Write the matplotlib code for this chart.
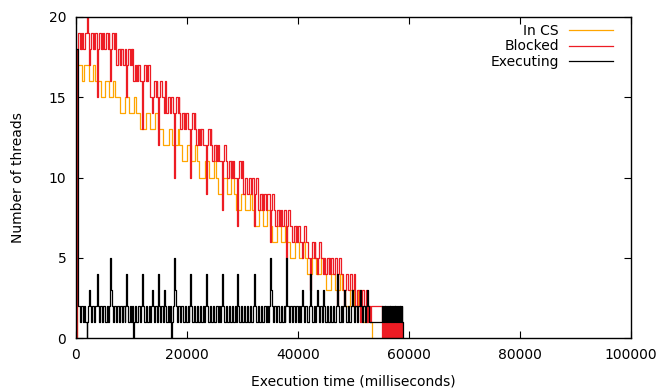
import matplotlib
matplotlib.use("Agg")
import matplotlib.pyplot as plt

# ---- data (time in ms, number of threads), step functions ----
x_ticks = [0, 20000, 40000, 60000, 80000, 100000]
y_ticks = [0, 5, 10, 15, 20]
series_labels = ["In CS", "Blocked", "Executing"]

cs_steps = [(0, 0), (150, 17), (1100, 16), (1400, 17), (2300, 16), (3000, 17), (3500, 16),
            (4500, 15), (5300, 16), (5900, 15), (6700, 16), (7100, 15), (7900, 14), (8800, 15),
            (9600, 14), (10400, 15), (10900, 14), (11500, 13), (12600, 14), (13300, 13),
            (14200, 14), (14700, 13), (15700, 12), (16700, 13), (17300, 12), (18300, 13),
            (18600, 12), (19100, 11), (20000, 12), (20700, 11), (21500, 12), (21800, 11),
            (22200, 10), (23200, 11), (23900, 10), (24800, 11), (25200, 10), (25600, 9),
            (26500, 10), (27200, 9), (28000, 10), (28400, 9), (28800, 8), (29800, 9), (30400, 8),
            (31300, 9), (31700, 8), (32100, 7), (33000, 8), (33700, 7), (34500, 8), (34900, 7),
            (35300, 6), (36300, 7), (36900, 6), (37700, 7), (38100, 6), (38600, 5), (39500, 6),
            (40100, 5), (40900, 6), (41200, 5), (41600, 4), (42600, 5), (43300, 4), (44100, 5),
            (44600, 4), (45100, 3), (46000, 4), (46700, 3), (47500, 4), (47900, 3), (48500, 2),
            (49400, 3), (50100, 2), (50900, 3), (51300, 2), (51700, 1), (52600, 2), (53000, 1),
            (53400, 0)]

blocked_steps = [(0, 0), (100, 18), (450, 19), (750, 18), (880, 19), (960, 18), (1050, 19),
                 (1350, 18), (1650, 19), (1930, 20), (2150, 19), (2340, 17), (2450, 18), (2750, 19),
                 (3100, 18), (3230, 19), (3300, 18), (3400, 19), (3780, 15), (3900, 18), (4200, 19),
                 (4500, 18), (4620, 19), (4700, 18), (4800, 19), (5100, 18), (5450, 19), (5800, 18),
                 (5950, 19), (6030, 18), (6130, 16), (6250, 18), (6500, 19), (6850, 18), (7050, 19),
                 (7210, 17), (7500, 18), (7850, 17), (7980, 18), (8060, 17), (8150, 18), (8500, 17),
                 (8800, 18), (9010, 15), (9130, 17), (9450, 18), (9800, 17), (9920, 18), (10000, 17),
                 (10050, 18), (10270, 16), (10550, 17), (10900, 16), (11020, 17), (11100, 16),
                 (11200, 17), (11550, 16), (11890, 13), (12010, 16), (12300, 17), (12650, 16),
                 (12770, 17), (12850, 16), (12950, 17), (13330, 15), (13700, 14), (13820, 15),
                 (14100, 16), (14450, 15), (14570, 16), (14650, 15), (14780, 12), (14900, 15),
                 (15200, 16), (15550, 15), (15860, 14), (15980, 15), (16080, 16), (16150, 15),
                 (16220, 14), (16500, 15), (16850, 14), (17100, 15), (17400, 14), (17660, 10),
                 (17780, 14), (18050, 15), (18400, 14), (18520, 15), (18600, 14), (18740, 13),
                 (19050, 14), (19400, 13), (19520, 14), (19600, 13), (19750, 14), (20100, 13),
                 (20540, 10), (20660, 13), (20950, 14), (21300, 13), (21420, 14), (21500, 13),
                 (21620, 12), (21900, 13), (22250, 12), (22370, 13), (22450, 12), (22600, 13),
                 (22950, 12), (23430, 9), (23550, 12), (23850, 13), (24200, 12), (24320, 13),
                 (24400, 12), (24510, 11), (24800, 12), (25150, 11), (25270, 12), (25350, 11),
                 (25500, 12), (25850, 11), (26310, 8), (26430, 11), (26700, 12), (27000, 11),
                 (27210, 10), (27500, 11), (27850, 10), (27970, 11), (28050, 10), (28200, 11),
                 (28550, 10), (29010, 7), (29130, 10), (29450, 11), (29800, 10), (29920, 11),
                 (30000, 10), (30090, 9), (30400, 10), (30750, 9), (31100, 10), (31450, 9),
                 (31750, 10), (32080, 7), (32200, 9), (32500, 10), (32800, 8), (33100, 9),
                 (33450, 8), (33570, 9), (33650, 8), (33800, 9), (34150, 8), (34500, 9), (34960, 6),
                 (35080, 8), (35400, 9), (35650, 8), (35860, 7), (36150, 8), (36500, 7), (36620, 8),
                 (36700, 7), (36850, 8), (37200, 7), (37500, 8), (37840, 5), (37960, 7), (38250, 8),
                 (38600, 7), (38920, 6), (39250, 7), (39600, 6), (39720, 7), (39800, 6), (39950, 7),
                 (40300, 6), (40730, 5), (40850, 6), (41150, 7), (41500, 6), (41810, 5), (42170, 3),
                 (42290, 5), (42600, 6), (42950, 5), (43070, 6), (43150, 5), (43430, 4), (43550, 5),
                 (43850, 6), (44200, 5), (44510, 4), (44630, 5), (44870, 4), (45200, 5), (45550, 4),
                 (45670, 5), (45750, 4), (45900, 5), (46250, 4), (46600, 5), (47030, 2), (47150, 4),
                 (47450, 5), (47800, 4), (48110, 3), (48290, 2), (48410, 3), (48700, 4), (49050, 3),
                 (49400, 4), (49730, 2), (49850, 3), (50050, 4), (50280, 2), (50600, 3), (50950, 2),
                 (51170, 1), (51290, 2), (51600, 3), (51950, 2), (52250, 3), (52440, 1), (52560, 2),
                 (52980, 1), (53080, 2), (55140, 0), (55290, 1), (55440, 0), (55590, 1), (55740, 0),
                 (55890, 1), (56040, 0), (56190, 1), (56340, 0), (56490, 1), (56640, 0), (56790, 1),
                 (56940, 0), (57090, 1), (57240, 0), (57390, 1), (57540, 0), (57690, 1), (57840, 0),
                 (57990, 1), (58140, 0), (58290, 1), (58440, 0), (58600, 1), (58700, 0)]

exec_steps = [(0, 0), (60, 18), (350, 2), (650, 1), (900, 2), (1200, 1), (1450, 2), (1700, 1),
              (1930, 0), (2050, 1), (2200, 2), (2340, 3), (2480, 2), (2700, 1), (2950, 2), (3250, 1),
              (3500, 2), (3780, 4), (3920, 2), (4150, 1), (4400, 2), (4700, 1), (4950, 2), (5250, 1),
              (5500, 2), (5800, 1), (6000, 2), (6050, 3), (6130, 5), (6280, 3), (6400, 2), (6650, 1),
              (6900, 2), (7200, 1), (7450, 2), (7750, 1), (8000, 2), (8300, 1), (8550, 2), (8750, 1),
              (8900, 2), (9010, 4), (9150, 2), (9400, 1), (9650, 2), (9950, 1), (10100, 2),
              (10200, 1), (10270, 0), (10400, 1), (10600, 2), (10900, 1), (11150, 2), (11450, 1),
              (11700, 2), (11890, 4), (12030, 2), (12300, 1), (12550, 2), (12850, 1), (13100, 2),
              (13400, 1), (13600, 2), (13700, 3), (13830, 2), (14050, 1), (14300, 2), (14550, 1),
              (14700, 2), (14780, 4), (14920, 2), (15150, 1), (15400, 2), (15650, 1), (15800, 2),
              (15860, 3), (15990, 2), (16250, 1), (16500, 2), (16800, 1), (16950, 2), (17050, 1),
              (17120, 0), (17250, 1), (17450, 2), (17580, 3), (17660, 5), (17800, 3), (17950, 2),
              (18200, 1), (18450, 2), (18750, 1), (19000, 2), (19300, 1), (19550, 2), (19850, 1),
              (20100, 2), (20300, 1), (20450, 2), (20540, 4), (20680, 2), (20950, 1), (21200, 2),
              (21500, 1), (21750, 2), (22050, 1), (22300, 2), (22600, 1), (22850, 2), (23100, 1),
              (23300, 2), (23430, 4), (23570, 2), (23850, 1), (24100, 2), (24400, 1), (24650, 2),
              (24950, 1), (25200, 2), (25500, 1), (25750, 2), (26000, 1), (26200, 2), (26310, 4),
              (26450, 2), (26700, 1), (26950, 2), (27250, 1), (27500, 2), (27800, 1), (28050, 2),
              (28350, 1), (28600, 2), (28800, 1), (28920, 2), (29010, 4), (29150, 2), (29400, 1),
              (29650, 2), (29950, 1), (30200, 2), (30500, 1), (30750, 2), (31050, 1), (31300, 2),
              (31600, 1), (31850, 2), (32080, 4), (32220, 2), (32500, 1), (32750, 2), (33050, 1),
              (33300, 2), (33600, 1), (33850, 2), (34150, 1), (34400, 2), (34650, 1), (34820, 2),
              (34880, 3), (34960, 5), (35100, 3), (35250, 2), (35500, 1), (35750, 2), (36050, 1),
              (36300, 2), (36600, 1), (36850, 2), (37150, 1), (37400, 2), (37600, 1), (37720, 2),
              (37780, 3), (37840, 5), (37980, 3), (38100, 2), (38350, 1), (38600, 2), (38900, 1),
              (39150, 2), (39450, 1), (39700, 2), (40000, 1), (40250, 2), (40450, 1), (40620, 2),
              (40730, 3), (40860, 2), (41100, 1), (41350, 2), (41650, 1), (41900, 2), (42170, 4),
              (42310, 2), (42550, 1), (42800, 2), (43050, 1), (43300, 2), (43430, 3), (43560, 2),
              (43800, 1), (44050, 2), (44300, 1), (44420, 2), (44510, 3), (44640, 2), (44900, 1),
              (45150, 2), (45450, 1), (45700, 2), (46000, 1), (46250, 2), (46550, 1), (46800, 2),
              (47030, 4), (47170, 2), (47450, 1), (47700, 2), (47950, 1), (48150, 2), (48290, 3),
              (48420, 2), (48700, 1), (48950, 2), (49250, 1), (49500, 2), (49730, 3), (49860, 2),
              (50100, 1), (50350, 2), (50650, 1), (50900, 2), (51170, 3), (51300, 2), (51550, 1),
              (51800, 2), (52100, 1), (52300, 2), (52440, 3), (52570, 2), (52800, 1), (55140, 2),
              (55290, 1), (55440, 2), (55590, 1), (55740, 2), (55890, 1), (56040, 2), (56190, 1),
              (56340, 2), (56490, 1), (56640, 2), (56790, 1), (56940, 2), (57090, 1), (57240, 2),
              (57390, 1), (57540, 2), (57690, 1), (57840, 2), (57990, 1), (58140, 2), (58290, 1),
              (58440, 2), (58600, 1), (58650, 2), (58700, 1), (58900, 0)]

series_colors = ["#ffa500", "#ed1c24", "#000000"]


def unpack(steps):
    return [s[0] for s in steps], [s[1] for s in steps]


plt.rcParams["font.family"] = ["DejaVu Sans"]
fig = plt.figure(figsize=(6.61, 3.89), dpi=100)
ax = fig.add_axes([76 / 661, 1 - 338 / 389, 555 / 661, 321 / 389])

for steps, lab, col in zip([cs_steps, blocked_steps, exec_steps], series_labels, series_colors):
    t, v = unpack(steps)
    ax.step(t, v, where="post", color=col, lw=0.9, label=lab)

ax.set_xlim(0, 100000)
ax.set_ylim(0, 20)
ax.set_xticks(x_ticks)
ax.set_yticks(y_ticks)
ax.set_xticklabels([str(v) for v in x_ticks])
ax.tick_params(direction="in", top=True, right=True, length=5, width=0.8,
               labelsize=10, colors="black")
ax.tick_params(axis="x", pad=7)
ax.tick_params(axis="y", pad=7)
for sp in ax.spines.values():
    sp.set_linewidth(1.0)

ax.set_xlabel("Execution time (milliseconds)", fontsize=10, labelpad=9)
ax.set_ylabel("Number of threads", fontsize=10, labelpad=17)

leg = ax.legend(loc="upper right", bbox_to_anchor=((613 - 76) / 555, (338 - 24) / 321),
                frameon=False, markerfirst=False, handlelength=3.2, handletextpad=0.7,
                labelspacing=0.1, borderpad=0, borderaxespad=0, fontsize=10)

fig.savefig("out.png", dpi=100)
